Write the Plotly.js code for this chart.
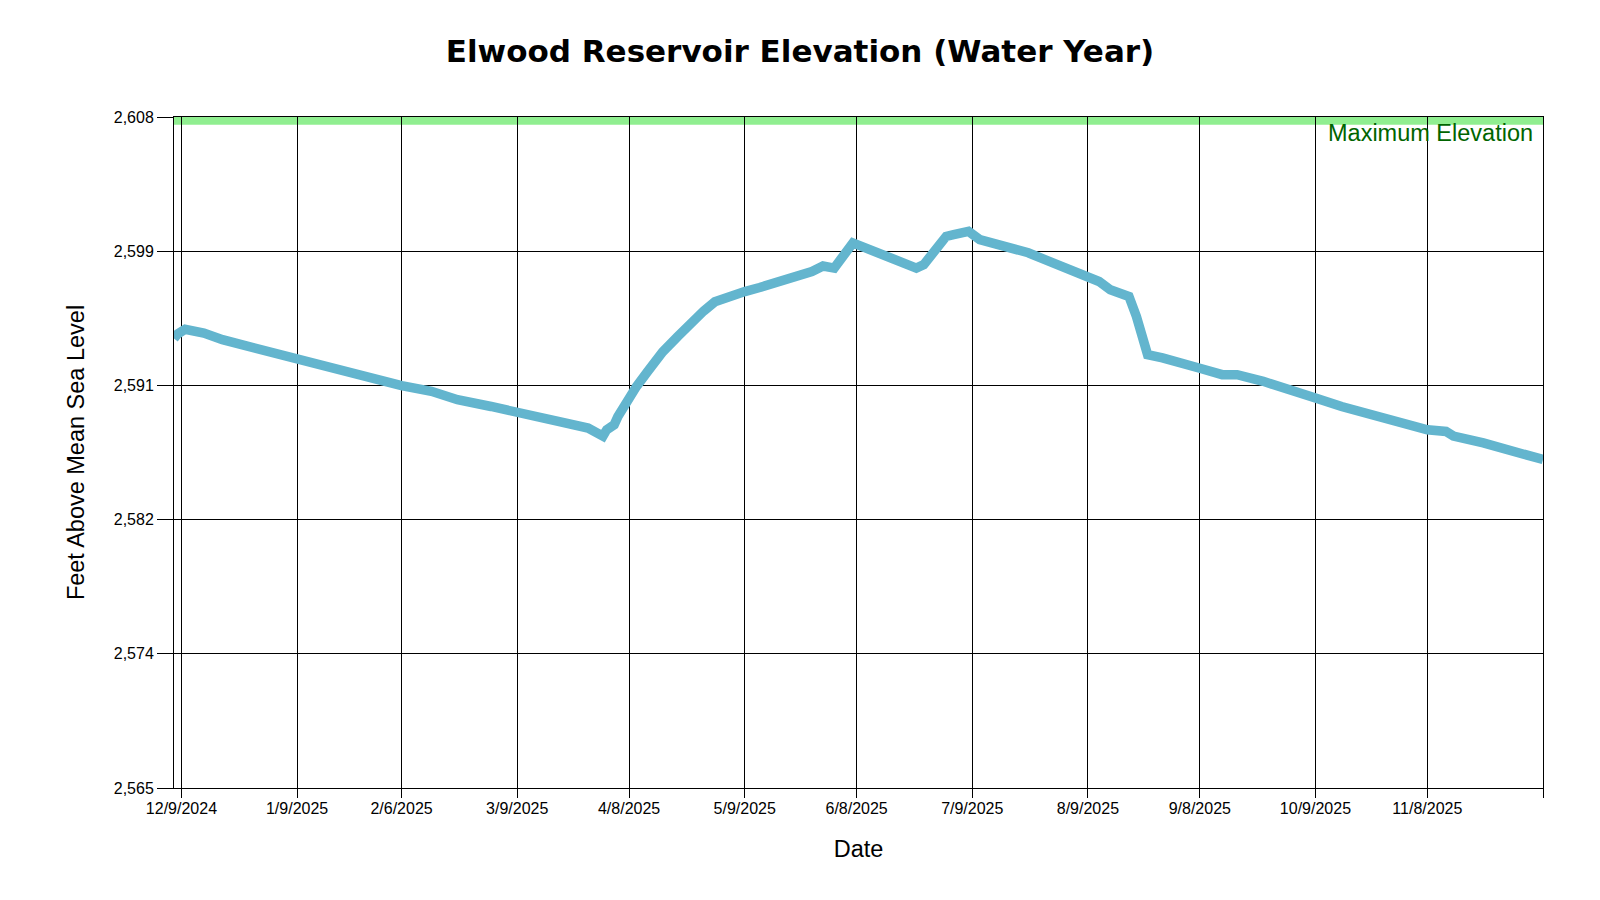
<!DOCTYPE html>
<html>
<head>
<meta charset="utf-8">
<script src="https://cdn.plot.ly/plotly-3.0.1.min.js"></script>
<style>html,body{margin:0;padding:0;background:#fff;}#chart{width:1600px;height:900px;}</style>
</head>
<body>
<div id="chart"></div>
<script>
// Observation dates (water year)
var dates = [
  '2024-12-07','2024-12-08','2024-12-10','2024-12-15','2024-12-20','2024-12-27',
  '2025-01-02','2025-01-09','2025-01-15','2025-01-22','2025-01-29',
  '2025-02-06','2025-02-14','2025-02-21','2025-03-02','2025-03-09','2025-03-14',
  '2025-03-20','2025-03-28','2025-04-01','2025-04-02','2025-04-04','2025-04-05',
  '2025-04-06','2025-04-08','2025-04-10','2025-04-13','2025-04-17','2025-04-21',
  '2025-04-25','2025-04-28','2025-05-01','2025-05-03','2025-05-06','2025-05-09',
  '2025-05-13','2025-05-17','2025-05-21','2025-05-27','2025-05-30','2025-06-02',
  '2025-06-07','2025-06-14','2025-06-24','2025-06-26','2025-07-02','2025-07-04',
  '2025-07-08','2025-07-11','2025-07-16','2025-07-20','2025-07-24','2025-07-27',
  '2025-07-30','2025-08-04','2025-08-09','2025-08-12','2025-08-15','2025-08-20',
  '2025-08-22','2025-08-24','2025-08-25','2025-08-29','2025-09-03','2025-09-08',
  '2025-09-14','2025-09-18','2025-09-25','2025-10-03','2025-10-09','2025-10-16',
  '2025-10-25','2025-11-02','2025-11-08','2025-11-13','2025-11-15','2025-11-23',
  '2025-12-02','2025-12-08','2025-12-09'
];
// Elevation, feet above mean sea level
var elevation = [
  2593.8, 2594.1, 2594.4, 2594.16, 2593.73, 2593.3,
  2592.88, 2592.45, 2592.13, 2591.7, 2591.27,
  2590.78, 2590.42, 2589.88, 2589.45, 2589.03, 2588.71,
  2588.49, 2588.07, 2587.55, 2587.96, 2588.28, 2588.81,
  2589.24, 2589.99, 2590.74, 2591.7, 2592.95, 2593.93,
  2594.91, 2595.57, 2596.16, 2596.36, 2596.55, 2596.81,
  2597.07, 2597.34, 2597.6, 2598.1, 2598.45, 2598.32,
  2599.93, 2599.28, 2598.32, 2598.54, 2600.35, 2600.46,
  2600.67, 2600.14, 2599.85, 2599.6, 2599.3, 2599.0,
  2598.7, 2598.32, 2597.79, 2597.46, 2596.93, 2596.5,
  2595.22, 2593.73, 2592.77, 2592.56, 2592.3, 2591.9,
  2591.49, 2591.49, 2591.06, 2590.53, 2589.99, 2589.45,
  2588.92, 2588.39, 2587.96, 2587.85, 2587.55, 2587.11,
  2586.57, 2586.15, 2586.05
];
var maxElevation = 2608;
var xTickVals = ['2024-12-09','2025-01-09','2025-02-06','2025-03-09','2025-04-08','2025-05-09',
                 '2025-06-08','2025-07-09','2025-08-09','2025-09-08','2025-10-09','2025-11-08','2025-12-09'];
var xTickText = ['12/9/2024','1/9/2025','2/6/2025','3/9/2025','4/8/2025','5/9/2025',
                 '6/8/2025','7/9/2025','8/9/2025','9/8/2025','10/9/2025','11/8/2025',''];
var yTickVals = [2565, 2573.6, 2582.2, 2590.8, 2599.4, 2608];
var yTickText = ['2,565','2,574','2,582','2,591','2,599','2,608'];

var trace = {
  x: dates, y: elevation, type: 'scatter', mode: 'lines',
  line: {color: 'rgb(99,181,206)', width: 9.5, shape: 'linear'},
  hoverinfo: 'x+y'
};

var layout = {
  width: 1600, height: 900,
  margin: {l: 174, r: 57, t: 117, b: 112},
  paper_bgcolor: '#ffffff', plot_bgcolor: '#ffffff',
  showlegend: false,
  font: {family: '"Liberation Sans", Arial, sans-serif', color: '#000', size: 16},
  title: {
    text: '<b>Elwood Reservoir Elevation (Water Year)</b>',
    font: {family: '"DejaVu Sans", sans-serif', size: 31, color: '#000'},
    x: 0.5, xanchor: 'center', xref: 'container',
    y: 1 - 51/900, yanchor: 'middle', yref: 'container'
  },
  xaxis: {
    type: 'date',
    range: ['2024-12-07', '2025-12-09'],
    tickmode: 'array', tickvals: xTickVals, ticktext: xTickText,
    showgrid: true, gridcolor: '#000', gridwidth: 1,
    showline: true, linecolor: '#000', linewidth: 1, mirror: true,
    ticks: 'outside', ticklen: 9, tickcolor: '#000', tickwidth: 1,
    ticklabelstandoff: -3,
    tickfont: {size: 16, color: '#000'},
    zeroline: false,
    title: {text: 'Date', font: {size: 23.5, color: '#000'}, standoff: 24}
  },
  yaxis: {
    range: [2565, 2608],
    tickmode: 'array', tickvals: yTickVals, ticktext: yTickText,
    showgrid: true, gridcolor: '#000', gridwidth: 1,
    showline: true, linecolor: '#000', linewidth: 1, mirror: true,
    ticks: 'outside', ticklen: 16, tickcolor: '#000', tickwidth: 1,
    tickfont: {size: 16, color: '#000'},
    zeroline: false,
    title: {text: 'Feet Above Mean Sea Level', font: {size: 23.5, color: '#000'}, standoff: 22}
  },
  shapes: [{
    type: 'rect', xref: 'paper', x0: 0, x1: 1, yref: 'y',
    y0: maxElevation - 0.5, y1: maxElevation,
    fillcolor: '#90EE90', line: {width: 0}, layer: 'below'
  }],
  annotations: [{
    text: 'Maximum Elevation', xref: 'paper', x: 1, xanchor: 'right', xshift: -8,
    yref: 'y', y: maxElevation, yanchor: 'top', yshift: -1,
    showarrow: false, font: {size: 23.5, color: '#006400'}
  }]
};

Plotly.newPlot('chart', [trace], layout, {displayModeBar: false, staticPlot: true});
</script>
</body>
</html>
